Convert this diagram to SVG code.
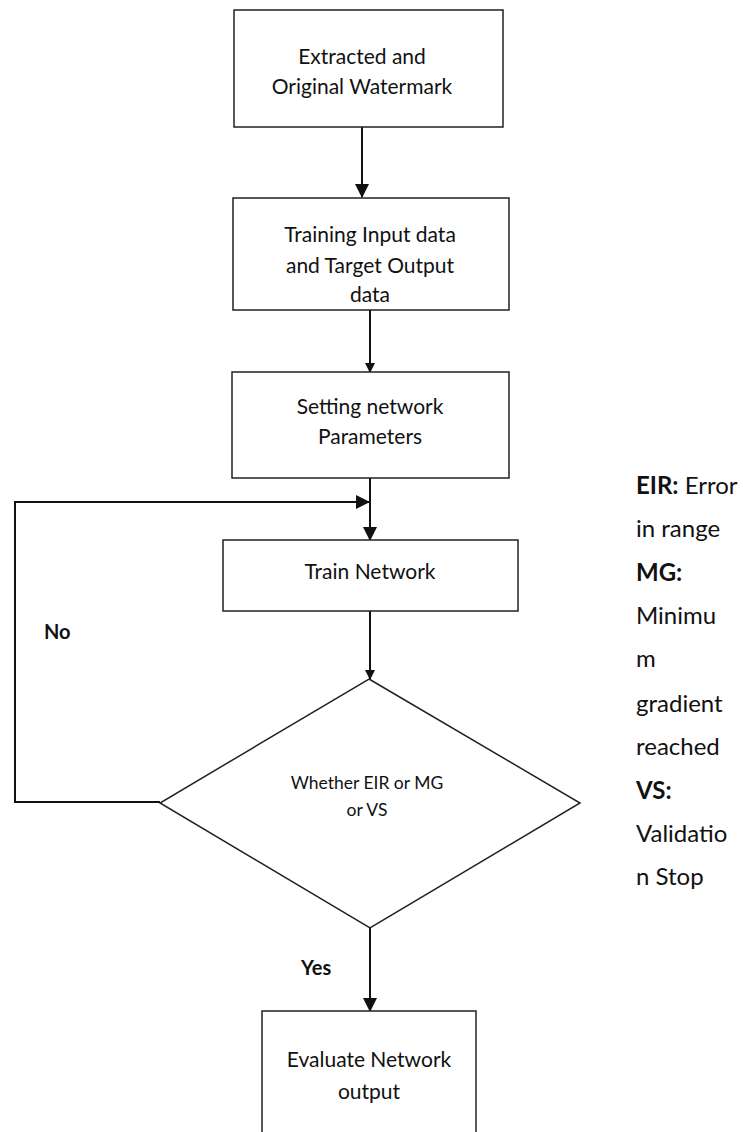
<svg xmlns="http://www.w3.org/2000/svg" width="743" height="1132" viewBox="0 0 743 1132">
<style>
.box{fill:#fff;stroke:#222;stroke-width:1.5}
.t{font-family:Lato,"Open Sans",sans-serif;font-size:21px;fill:#111;text-anchor:middle}
.s{font-family:Lato,"Open Sans",sans-serif;font-size:17.5px;fill:#111;text-anchor:middle}
.b{font-family:Lato,"Open Sans",sans-serif;font-size:20px;font-weight:bold;fill:#111}
.lg{font-family:Lato,"Open Sans",sans-serif;font-size:24px;fill:#111}
.c{fill:none;stroke:#111;stroke-width:2}
</style>
<defs>
<marker id="ah" markerWidth="10" markerHeight="10" refX="9" refY="5" orient="auto" markerUnits="userSpaceOnUse">
<path d="M0,0 L10,5 L0,10 Z" fill="#111"/>
</marker>
<marker id="ahv" markerWidth="14" markerHeight="14" refX="13" refY="7" orient="auto" markerUnits="userSpaceOnUse">
<path d="M0,0 L14,7 L0,14 Z" fill="#111"/>
</marker>
</defs>
<rect width="743" height="1132" fill="#fff"/>
<g id="connectors">
<line class="c" x1="362" y1="127" x2="362" y2="197" marker-end="url(#ahv)"/>
<line class="c" x1="370" y1="310" x2="370" y2="372" marker-end="url(#ah)"/>
<line class="c" x1="370" y1="478" x2="370" y2="540" marker-end="url(#ahv)"/>
<polyline class="c" points="160,802 15,802 15,502 369,502" marker-end="url(#ahv)"/>
<line class="c" x1="370" y1="611" x2="370" y2="679" marker-end="url(#ah)"/>
<line class="c" x1="370" y1="928" x2="370" y2="1011" marker-end="url(#ahv)"/>
<text class="b" x="44" y="639">No</text>
<text class="b" x="301" y="975">Yes</text>
</g>
<g id="n1">
<rect class="box" x="234" y="10" width="269" height="117"/>
<text class="t" x="362" y="64">Extracted and</text>
<text class="t" x="362" y="94">Original Watermark</text>
</g>
<g id="n2">
<rect class="box" x="233" y="198" width="276" height="112"/>
<text class="t" x="370" y="242">Training Input data</text>
<text class="t" x="370" y="273">and Target Output</text>
<text class="t" x="370" y="302">data</text>
</g>
<g id="n3">
<rect class="box" x="232" y="372" width="277" height="106"/>
<text class="t" x="370" y="414">Setting network</text>
<text class="t" x="370" y="444">Parameters</text>
</g>
<g id="n4">
<rect class="box" x="223" y="540" width="295" height="71"/>
<text class="t" x="370" y="579">Train Network</text>
</g>
<g id="n5">
<polygon class="box" points="369,679 580,803 370,928 160,803"/>
<text class="s" x="367" y="789">Whether EIR or MG</text>
<text class="s" x="367" y="816">or VS</text>
</g>
<g id="n6">
<rect class="box" x="262" y="1011" width="214" height="140"/>
<text class="t" x="369" y="1067">Evaluate Network</text>
<text class="t" x="369" y="1099">output</text>
</g>
<g id="legend">
<text class="lg" x="636" y="494"><tspan font-weight="bold">EIR:</tspan> Error</text>
<text class="lg" x="636" y="537">in range</text>
<text class="lg" x="636" y="581" font-weight="bold">MG:</text>
<text class="lg" x="636" y="624">Minimu</text>
<text class="lg" x="636" y="667">m</text>
<text class="lg" x="636" y="712">gradient</text>
<text class="lg" x="636" y="755">reached</text>
<text class="lg" x="636" y="799" font-weight="bold">VS:</text>
<text class="lg" x="636" y="842">Validatio</text>
<text class="lg" x="636" y="885">n Stop</text>
</g>
</svg>
